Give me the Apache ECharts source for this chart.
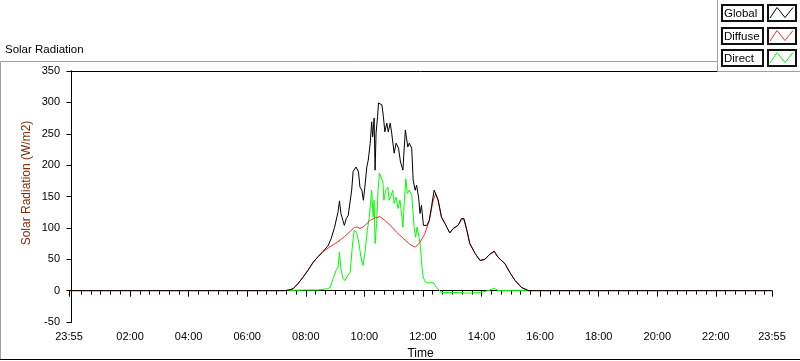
<!DOCTYPE html>
<html>
<head>
<meta charset="utf-8">
<script src="https://cdn.jsdelivr.net/npm/echarts@6/dist/echarts.min.js"></script>
<style>
html,body{margin:0;padding:0;background:#fff;}
#chart{width:800px;height:361px;}
</style>
</head>
<body>
<div id="chart"></div>
<script>
// ---- Data (time in minutes since 00:00, values in W/m2) ----
const seriesNames = ['Global', 'Diffuse', 'Direct'];

const globalTimes = [-5,437,446,454,464,474,485,495,505,515,526,532,539,546,549,552,556,559,563,567,571,574,577,583,588,591,595,598,601,605,608,612,615,617,620,622,624,627,629,632,636,639,642,646,649,653,656,661,665,670,674,679,681,684,689,692,697,700,704,707,711,714,717,721,724,728,733,738,743,747,751,758,765,769,775,782,792,799,804,810,816,827,837,847,857,866,874,888,898,909,922,936,1435];
const globalValues = [0,0,1,3,11,21,33,45,54,62,72,83,101,125,143,123,112,104,115,120,123,160,190,197,189,165,160,144,165,197,208,235,269,245,275,192,251,277,299,302,296,277,253,267,253,267,251,219,235,227,205,192,219,256,229,235,227,176,160,168,149,123,136,104,107,104,112,136,160,157,145,117,107,101,92,99,104,115,115,96,75,59,48,50,58,63,53,43,29,16,5,0,0];

const diffuseTimes = [-5,437,446,454,464,474,485,495,505,515,526,536,546,559,572,580,586,591,597,601,612,622,632,642,653,666,680,693,704,714,724,733,741,746,751,758,765,769,775,782,792,799,804,810,816,827,837,847,857,866,874,888,898,909,922,936,1435];
const diffuseValues = [0,0,1,3,11,21,33,45,54,62,68,73,78,86,95,101,101,99,101,104,112,116,118,112,104,93,83,74,69,77,91,112,144,154,144,117,107,101,92,99,104,113,113,96,75,59,48,50,58,62,53,43,29,16,5,0,0];

const directTimes = [-5,437,480,505,524,530,536,542,546,549,552,556,560,566,571,575,579,584,589,593,597,601,606,610,615,618,620,622,625,628,631,634,638,640,644,648,651,655,658,661,665,669,673,677,679,682,685,688,692,697,702,705,708,712,715,718,721,726,731,741,745,748,758,775,792,810,837,854,866,874,936,1435];
const directValues = [0,0,1,1,3,5,19,32,37,61,35,20,16,24,29,67,96,93,75,53,40,59,96,117,160,117,144,75,107,160,187,184,173,144,160,165,144,152,160,139,149,131,144,117,101,144,178,155,160,152,101,85,101,85,69,37,20,13,12,13,16,5,-3,-3,-3,-4,-3,0,4,0,0,0];

// tick labels (minutes since 00:00) and their texts
const xLabelValues = [-5,120,240,360,480,600,720,840,960,1080,1200,1320,1435];
const xLabelTexts  = ['23:55','02:00','04:00','06:00','08:00','10:00','12:00','14:00','16:00','18:00','20:00','22:00','23:55'];
const xMinorTicks = [0,20,40,60,80,100,140,160,180,200,220,260,280,300,320,340,380,400,420,440,460,500,520,540,560,580,620,640,660,680,700,740,760,780,800,820,860,880,900,920,940,980,1000,1020,1040,1060,1100,1120,1140,1160,1180,1220,1240,1260,1280,1300,1340,1360,1380,1400,1420];
const yMin = -50, yMax = 350, yStep = 50;

const colors = { Global: '#000000', Diffuse: '#ff2a2a', Direct: '#00ff00' };

function zip(t, v) { return t.map((x, i) => [x, v[i]]); }

const FONT = '"Liberation Sans", Arial, sans-serif';
const chart = echarts.init(document.getElementById('chart'), null, { renderer: 'canvas' });

const legendItems = seriesNames.map((name, i) => {
  const yb = Math.round(5 + i * 22.7);
  return [
    { type: 'rect', shape: { x: 722, y: yb, width: 41, height: 16 }, style: { fill: '#fff', stroke: '#111', lineWidth: 2 }, z: 101 },
    { type: 'text', x: 724, y: yb + 8.5, style: { text: name, font: '11.5px ' + FONT, fill: '#000', textVerticalAlign: 'middle', textAlign: 'left' }, z: 102 },
    { type: 'rect', shape: { x: 768, y: yb, width: 28, height: 16 }, style: { fill: '#fff', stroke: '#111', lineWidth: 2 }, z: 101 },
    { type: 'polyline', shape: { points: [[770, yb + 13], [777, yb + 2.5], [785, yb + 12.5], [793, yb + 2.5]] }, style: { stroke: colors[name], lineWidth: 1, fill: null }, z: 102 }
  ];
}).flat();

const option = {
  animation: false,
  backgroundColor: '#fff',
  textStyle: { fontFamily: FONT },
  grid: { left: 69, right: 28, top: 71, bottom: 39, containLabel: false, outerBoundsMode: 'none' },
  xAxis: [
    {
      type: 'value', min: -5, max: 1435, position: 'bottom',
      name: 'Time', nameLocation: 'middle', nameGap: 26,
      nameTextStyle: { fontSize: 12, color: '#000', fontFamily: FONT },
      axisLine: { show: true, lineStyle: { color: '#000', width: 1 } },
      axisTick: { show: true, length: 6, lineStyle: { color: '#000' }, customValues: xLabelValues },
      axisLabel: {
        show: true, fontSize: 11, color: '#000', margin: 9, fontFamily: FONT,
        customValues: xLabelValues,
        formatter: (v) => { const i = xLabelValues.indexOf(Math.round(v)); return i >= 0 ? xLabelTexts[i] : ''; }
      },
      splitLine: { show: false }
    },
    {
      type: 'value', min: -5, max: 1435, position: 'bottom', offset: 0,
      axisLine: { show: false },
      axisTick: { show: true, length: 4, lineStyle: { color: '#000' }, customValues: xMinorTicks },
      axisLabel: { show: false },
      splitLine: { show: false }
    },
    {
      type: 'value', min: -5, max: 1435, position: 'top',
      axisLine: { show: true, lineStyle: { color: '#000' } },
      axisTick: { show: false }, axisLabel: { show: false }, splitLine: { show: false }
    }
  ],
  yAxis: [
    {
      type: 'value', min: yMin, max: yMax, interval: yStep, position: 'left',
      axisLine: { show: true, lineStyle: { color: '#000' } },
      axisTick: { show: true, length: 5, lineStyle: { color: '#000' } },
      axisLabel: { fontSize: 11, color: '#000', margin: 9, fontFamily: FONT },
      splitLine: { show: false }
    },
    {
      type: 'value', min: yMin, max: yMax, position: 'right',
      axisLine: { show: true, lineStyle: { color: '#000' } },
      axisTick: { show: false }, axisLabel: { show: false }, splitLine: { show: false }
    }
  ],
  series: [
    { name: 'Direct', type: 'line', data: zip(directTimes, directValues), showSymbol: false, symbol: 'none', lineStyle: { color: colors.Direct, width: 1 }, z: 2 },
    { name: 'Diffuse', type: 'line', data: zip(diffuseTimes, diffuseValues), showSymbol: false, symbol: 'none', lineStyle: { color: colors.Diffuse, width: 1 }, z: 3 },
    { name: 'Global', type: 'line', data: zip(globalTimes, globalValues), showSymbol: false, symbol: 'none', lineStyle: { color: colors.Global, width: 1 }, z: 4 }
  ],
  graphic: [
    { type: 'polyline', shape: { points: [[0.5, 360], [0.5, 61.5], [717, 61.5]] }, style: { stroke: '#a0a0a0', lineWidth: 1, fill: null }, z: 50 },
    { type: 'line', shape: { x1: 0, y1: 359.5, x2: 800, y2: 359.5 }, style: { stroke: '#000', lineWidth: 1 }, z: 50 },
    { type: 'text', x: 5, y: 50, style: { text: 'Solar Radiation', font: '11.5px ' + FONT, fill: '#000', textVerticalAlign: 'middle', textAlign: 'left' }, z: 50 },
    { type: 'text', x: 27, y: 183, rotation: Math.PI / 2, style: { text: 'Solar Radiation (W/m2)', font: '12px ' + FONT, fill: '#7f2b0a', textVerticalAlign: 'middle', textAlign: 'center' }, z: 50 },
    { type: 'rect', shape: { x: 717.5, y: -1, width: 84, height: 72.5 }, style: { fill: '#fff', stroke: '#a0a0a0', lineWidth: 1 }, z: 100 }
  ].concat(legendItems)
};
chart.setOption(option);
</script>
</body>
</html>
